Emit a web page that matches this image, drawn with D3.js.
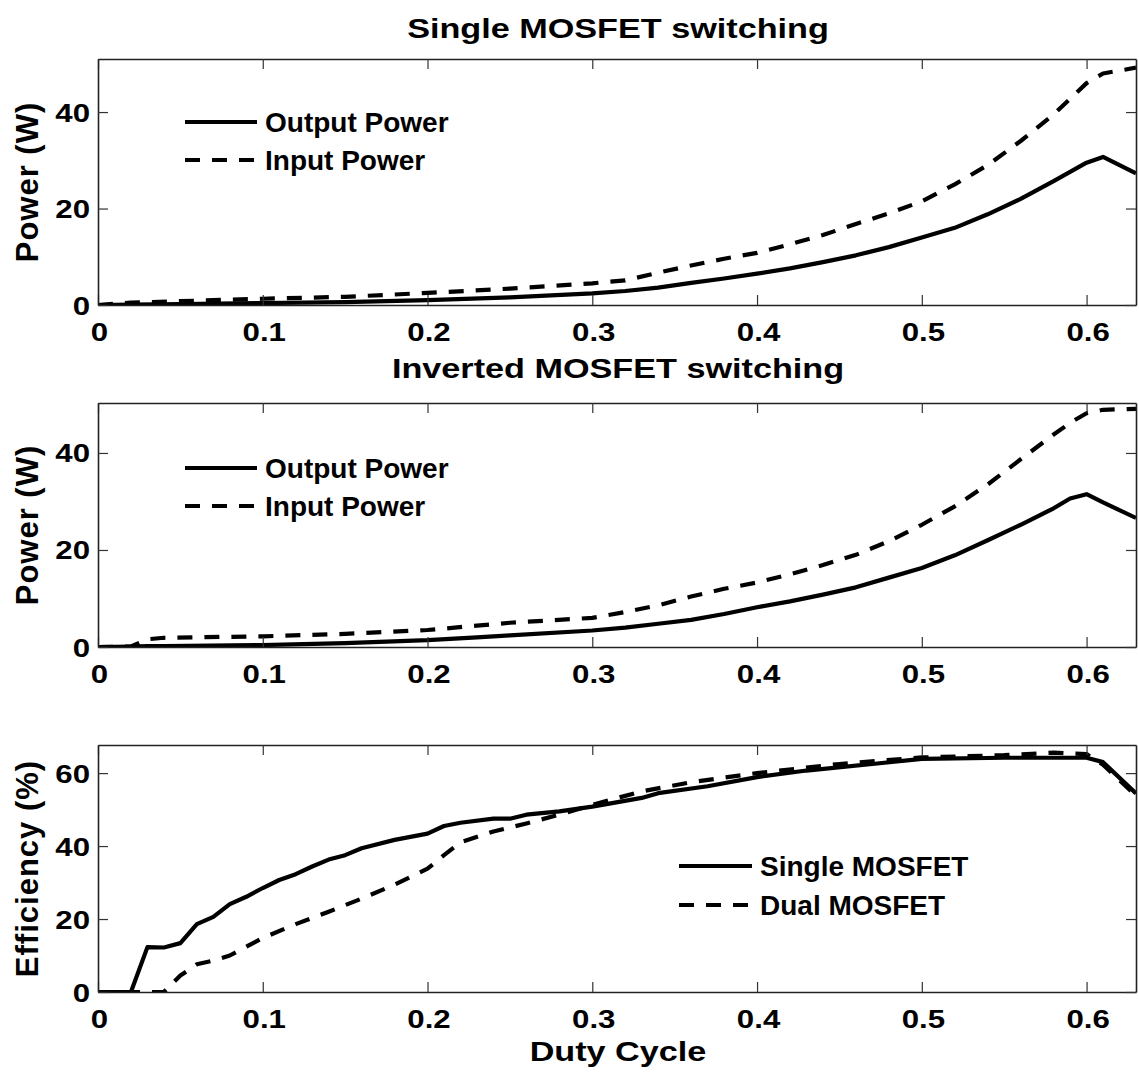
<!DOCTYPE html>
<html><head><meta charset="utf-8">
<script src="https://cdn.jsdelivr.net/npm/d3@7"></script>
<style>body{margin:0;background:#fff}</style>
</head><body>
<svg id="chart" width="1139" height="1073"></svg>
<script>
// ---------- Data ----------
const xTicks = [0, 0.1, 0.2, 0.3, 0.4, 0.5, 0.6];
const powerTicks = [0, 20, 40];
const effTicks = [0, 20, 40, 60];

// Panel 1: Single MOSFET switching
const duty1 = [0, 0.02, 0.05, 0.1, 0.15, 0.2, 0.25, 0.3, 0.32, 0.34, 0.36, 0.38, 0.4, 0.42, 0.44, 0.46, 0.48, 0.5, 0.52, 0.54, 0.56, 0.58, 0.6, 0.61, 0.63];
const out1  = [0, 0.1, 0.2, 0.4, 0.6, 1.0, 1.6, 2.4, 2.9, 3.6, 4.6, 5.5, 6.5, 7.6, 8.9, 10.3, 12.0, 14.0, 16.0, 18.8, 22.0, 25.7, 29.5, 30.7, 27.3];
const in1   = [0, 0.5, 0.8, 1.3, 1.7, 2.5, 3.4, 4.5, 5.1, 6.7, 8.2, 9.6, 10.8, 12.6, 14.5, 16.8, 19.0, 21.5, 25.0, 29.0, 34.0, 39.5, 46.0, 48.0, 49.2];

// Panel 2: Inverted MOSFET switching
const duty2 = [0, 0.02, 0.03, 0.04, 0.1, 0.15, 0.2, 0.23, 0.25, 0.3, 0.32, 0.34, 0.36, 0.38, 0.4, 0.42, 0.44, 0.46, 0.48, 0.5, 0.52, 0.54, 0.56, 0.58, 0.59, 0.6, 0.61, 0.63];
const out2  = [0, 0.1, 0.2, 0.2, 0.4, 0.8, 1.4, 2.0, 2.4, 3.4, 4.0, 4.8, 5.6, 6.8, 8.2, 9.4, 10.8, 12.3, 14.3, 16.3, 18.9, 22.0, 25.2, 28.6, 30.6, 31.5, 29.8, 26.6];
const in2   = [0, 0.1, 1.6, 1.9, 2.2, 2.7, 3.5, 4.4, 5.0, 6.0, 7.2, 8.6, 10.4, 12.0, 13.3, 15.0, 16.9, 19.0, 21.8, 25.2, 29.0, 33.5, 38.7, 43.8, 46.2, 48.2, 48.9, 49.1];

// Panel 3: Efficiency
const dutySingle = [0, 0.02, 0.03, 0.04, 0.05, 0.06, 0.07, 0.08, 0.09, 0.1, 0.11, 0.12, 0.13, 0.14, 0.15, 0.16, 0.18, 0.2, 0.21, 0.22, 0.24, 0.25, 0.26, 0.28, 0.3, 0.33, 0.34, 0.37, 0.4, 0.43, 0.47, 0.5, 0.55, 0.6, 0.61, 0.63];
const effSingle  = [0, 0, 12.3, 12.2, 13.4, 18.6, 20.6, 24.1, 26.1, 28.5, 30.7, 32.3, 34.4, 36.3, 37.5, 39.4, 41.7, 43.4, 45.5, 46.4, 47.5, 47.5, 48.6, 49.5, 50.8, 53.2, 54.5, 56.4, 58.9, 60.7, 62.5, 63.9, 64.2, 64.2, 63.0, 54.4];
const dutyDual = [0, 0.04, 0.05, 0.06, 0.07, 0.08, 0.1, 0.12, 0.14, 0.16, 0.18, 0.2, 0.21, 0.22, 0.24, 0.26, 0.28, 0.3, 0.33, 0.36, 0.4, 0.45, 0.5, 0.55, 0.58, 0.6, 0.61, 0.63];
const effDual  = [0, 0, 4.5, 7.6, 8.6, 10.0, 14.8, 18.6, 22.0, 25.6, 29.4, 33.8, 37.5, 41.0, 44.0, 46.2, 48.6, 51.3, 55.0, 57.5, 60.0, 62.5, 64.3, 64.9, 65.6, 65.2, 62.3, 53.8];

// ---------- Drawing ----------
const svg = d3.select("#chart");
const FONT = "'Liberation Sans', Arial, Helvetica, sans-serif";
const SX = 1.2; // horizontal stretch of the reference lettering
const left = 98, right = 1136;
const x = d3.scaleLinear().domain([0, 0.63]).range([left, right]);

function stretchedText(g, cx, cy, size, str, anchor) {
  return g.append("text")
    .attr("transform", `translate(${cx},${cy}) scale(${SX},1)`)
    .attr("text-anchor", anchor || "middle")
    .attr("font-family", FONT).attr("font-weight", "bold").attr("font-size", size)
    .text(str);
}

function panel(cfg, idx) {
  const y = d3.scaleLinear().domain([0, cfg.ymax]).range([cfg.bottom, cfg.top]);
  const g = svg.append("g");
  const clipId = "clip" + idx;
  svg.append("defs").append("clipPath").attr("id", clipId)
    .append("rect").attr("x", left).attr("y", cfg.top).attr("width", right - left).attr("height", cfg.bottom - cfg.top);

  // series
  const line = d3.line().x(d => x(d[0])).y(d => y(d[1]));
  cfg.series.forEach(s => {
    g.append("path")
      .datum(d3.zip(s.x, s.y))
      .attr("clip-path", `url(#${clipId})`)
      .attr("d", line)
      .attr("fill", "none").attr("stroke", "#000").attr("stroke-width", 4.2)
      .attr("stroke-linejoin", "round")
      .attr("stroke-dasharray", s.dash ? "15,12" : null);
  });

  // axes with inward ticks on all four sides
  const tl = 10;
  const gB = g.append("g").attr("transform", `translate(0,${cfg.bottom})`)
    .call(d3.axisBottom(x).tickValues(xTicks).tickSize(tl).tickSizeOuter(0).tickFormat(d3.format("~g")));
  gB.selectAll(".tick line").attr("y2", -tl);
  gB.selectAll(".tick text").attr("y", null).attr("dy", null)
    .attr("transform", `translate(1,36) scale(${SX},1)`);
  const gT = g.append("g").attr("transform", `translate(0,${cfg.top})`)
    .call(d3.axisTop(x).tickValues(xTicks).tickSize(tl).tickSizeOuter(0).tickFormat(""));
  gT.selectAll(".tick line").attr("y2", tl);
  const gL = g.append("g").attr("transform", `translate(${left},0)`)
    .call(d3.axisLeft(y).tickValues(cfg.yticks).tickSize(tl).tickSizeOuter(0));
  gL.selectAll(".tick line").attr("x2", tl);
  gL.selectAll(".tick text").attr("x", null).attr("dy", null)
    .attr("transform", `translate(-8,9) scale(${SX},1)`);
  const gR = g.append("g").attr("transform", `translate(${right},0)`)
    .call(d3.axisRight(y).tickValues(cfg.yticks).tickSize(tl).tickSizeOuter(0).tickFormat(""));
  gR.selectAll(".tick line").attr("x2", -tl);

  [gB, gT, gL, gR].forEach(a => {
    a.select(".domain").attr("stroke", "#222").attr("stroke-width", 1.6);
    a.selectAll(".tick line").attr("stroke", "#333").attr("stroke-width", 1.2);
    a.selectAll(".tick text").attr("fill", "#000").attr("font-family", FONT)
      .attr("font-weight", "bold").attr("font-size", 26);
  });

  // y label
  g.append("text")
    .attr("transform", `translate(38,${(cfg.top + cfg.bottom) / 2}) rotate(-90)`)
    .attr("text-anchor", "middle")
    .attr("font-family", FONT).attr("font-weight", "bold").attr("font-size", 31).attr("letter-spacing", 1)
    .text(cfg.ylabel);

  // title
  if (cfg.title) stretchedText(g, 618, cfg.titleY, 28.5, cfg.title);

  // legend
  const lg = cfg.legend;
  cfg.series.forEach((s, i) => {
    const ly = lg.y[i];
    g.append("line").attr("x1", lg.x0).attr("x2", lg.x1).attr("y1", ly).attr("y2", ly)
      .attr("stroke", "#000").attr("stroke-width", 4.2)
      .attr("stroke-dasharray", s.dash ? "15,12" : null);
    g.append("text").attr("x", lg.x1 + 8).attr("y", ly + 10)
      .attr("font-family", FONT).attr("font-weight", "bold").attr("font-size", 28)
      .text(s.name);
  });
}

panel({
  top: 59, bottom: 305, ymax: 51, yticks: powerTicks, ylabel: "Power (W)",
  title: "Single MOSFET switching", titleY: 38,
  series: [
    {name: "Output Power", x: duty1, y: out1, dash: false},
    {name: "Input Power", x: duty1, y: in1, dash: true}
  ],
  legend: {x0: 185, x1: 257, y: [122, 160]}
}, 1);

panel({
  top: 403, bottom: 647, ymax: 50.3, yticks: powerTicks, ylabel: "Power (W)",
  title: "Inverted MOSFET switching", titleY: 378,
  series: [
    {name: "Output Power", x: duty2, y: out2, dash: false},
    {name: "Input Power", x: duty2, y: in2, dash: true}
  ],
  legend: {x0: 185, x1: 257, y: [468, 506]}
}, 2);

panel({
  top: 745, bottom: 992, ymax: 67.7, yticks: effTicks, ylabel: "Efficiency (%)",
  series: [
    {name: "Single MOSFET", x: dutySingle, y: effSingle, dash: false},
    {name: "Dual MOSFET", x: dutyDual, y: effDual, dash: true}
  ],
  legend: {x0: 679, x1: 752, y: [866, 905]}
}, 3);

stretchedText(svg, 618, 1061, 28.5, "Duty Cycle");
</script>
</body></html>
